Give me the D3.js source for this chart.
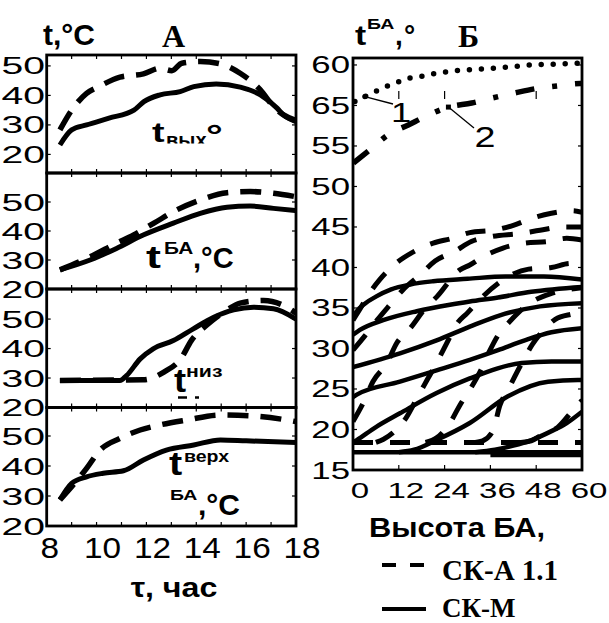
<!DOCTYPE html>
<html><head><meta charset="utf-8">
<script src="https://cdn.jsdelivr.net/npm/d3@7"></script>
<style>body{margin:0;background:#fff}svg{display:block}</style>
</head><body><svg id="c" width="609" height="623"></svg>
<script>
// ---------------- DATA ----------------
// Panel A: time of day (hours) vs temperature
const hourTicks = [8, 10, 12, 14, 16, 18];
const hourMinorTicks = [8, 9, 10, 11, 12, 13, 14, 15, 16, 17, 18];
const tempTicksA = [20, 30, 40, 50];

const outletSKM = [[8.53,23.2],[9.0,28.3],[9.6,30],[10.5,32.3],[11.5,35],[11.9,37.9],[12.55,40.2],[13.35,41.3],[13.9,43],[14.8,43.9],[15.76,42.8],[16.57,40.2],[17.24,35.7],[17.5,33.4],[18,31.1]];
const outletSKA = [[8.53,28.3],[9.0,35],[9.6,40.7],[10.14,43.2],[10.94,46.2],[11.88,47.3],[12.55,49.2],[13.02,48.4],[13.42,50.9],[14.16,51.5],[14.97,50.7],[15.76,47.5],[16.57,41.9],[17.1,36.2],[17.5,33.4],[18,31.5]];
const baSKM = [[8.53,26.6],[9.74,30],[10.8,34],[11.87,38.6],[13.08,42.7],[14.16,46.1],[15.23,48.2],[16.16,48.6],[17.1,47.8],[18,47]];
const baSKA = [[8.53,26.6],[9.74,31.1],[10.8,35.8],[11.47,38.6],[12.3,42.7],[13.2,47.2],[14.16,50.7],[15.23,53.2],[16.16,53.6],[17.1,53],[18,51.8]];
const lowSKM = [[8.53,29.2],[10.94,29.2],[11.2,30.8],[11.75,36.5],[12.27,39.9],[13.08,42.7],[13.88,46.7],[14.7,50.6],[15.5,53.1],[16.3,54],[17.1,53.5],[18,50]];
const lowSKA = [[8.53,29.2],[11.87,29.4],[12.7,32],[13.4,36.8],[13.8,42.7],[14.4,47.8],[15.2,52.9],[15.76,55.4],[16.7,56.3],[17.5,54.6],[18,52]];
const topSKM = [[8.53,28.7],[9.0,34.2],[9.6,36.4],[10.27,37.6],[11.08,38.4],[11.88,42],[12.8,45.3],[13.9,47],[14.97,48.7],[16.0,48.4],[18,47.8]];
const topSKA = [[8.53,28.7],[9.6,39.2],[10.14,45.3],[10.94,49.2],[11.75,52],[12.55,53.7],[13.6,55.3],[14.97,57],[16.3,56.7],[18,54.8]];

// Panel B: battery height vs temperature
const heightTicks = [0, 12, 24, 36, 48, 60];
const tempTickValuesB = [15, 20, 25, 30, 35, 40, 45, 50, 55, 60, 65];
const tempTickLabelsB = ["15","20","25","30","35","40","45","50","55","65","60"];

const curve1Dotted = [[0.5,60.5],[3.1,61.1],[6.2,61.8],[9,62.4],[11.9,62.9],[14.9,63.4],[18,63.6],[21,63.9],[27.2,64.3],[33.7,64.5],[39.8,64.7],[46.4,65],[52.5,65.1],[58.6,65.2],[60,65.2]];
const curve2DashDot = [[0.1,52.9],[4.9,54.7],[9.25,56.4],[14.5,57.6],[19.7,58.8],[25,59.8],[31.1,60.3],[36.3,60.9],[42,61.5],[48.1,62.1],[53.4,62.4],[59.5,62.7],[60,62.7]];
const gridMarkHeights = [12, 24, 48];

const skmProfiles = [
  [[0,33.8],[1,34.6],[3,35.5],[6,36.4],[10,37.3],[15,37.9],[21,38.3],[30,38.6],[40,38.9],[50,38.9],[60,38.5]],
  [[0,31.7],[1.8,32.3],[7.9,33.5],[16.7,34.6],[25.4,35.4],[30.6,35.8],[38,36.3],[46.7,37],[60,37.6]],
  [[0,27.7],[12.3,29.4],[21.9,31],[30.6,32.7],[38.5,34.1],[49,35.2],[60,35.6]],
  [[0,24],[1,24.3],[12.3,25.9],[21.9,27.3],[30.6,28.6],[38,29.8],[45,31],[52,32],[60,32.5]],
  [[0,18.4],[1,18.7],[6,20.3],[12.3,22],[21.9,24.5],[30.6,26.3],[44.2,28.2],[52,28.4],[60,28.4]],
  [[12,17.2],[16,17.5],[21.9,18.7],[30.6,20.8],[40.6,24.1],[51.1,25.9],[58.9,26.1],[60,26.1]],
  [[32,17.2],[37.2,17.5],[42,18],[46.8,18.7],[52,19.8],[56,20.8],[60,22.2]],
  [[0,17.2],[60,17.2]],
  [[36,16.85],[60,16.85]]
];
const skaProfiles = [
  [[0,33.5],[2,35],[4,36.6],[7,38.5],[11.5,40.6],[15.7,41.9],[21,43],[26,43.6],[30.6,44.3],[36.7,44.6],[42,45.2],[47,46.1],[52,46.7],[57.5,47],[60,46.8]],
  [[0,29.8],[3,31.5],[6.3,33.5],[9.7,35.4],[13,37.2],[17.6,39.1],[21.5,40.8],[26.7,42],[31,43.2],[36,43.8],[43.8,44.2],[49,44.6],[55,45],[60,45]],
  [[0,21],[3,23.6],[5.2,25.9],[8.9,28.2],[11.5,30.7],[15,32.5],[19,35],[22,36.4],[28,39.7],[30.6,40.3],[34,41.3],[39.3,42.4],[45,43],[51,43.2],[56,43.6],[60,43.4]],
  [[6,18.4],[8,18.8],[10.5,19.6],[14,21.5],[16.8,23.9],[19.4,26.1],[22,28.3],[24.6,30.7],[27,32.9],[30,34.4],[34,36.4],[38.5,38.2],[42,39.2],[46,39.8],[52,40],[57,40.5],[60,40.3]],
  [[19,18.4],[22,19],[25.4,20.8],[28,23],[31,25.2],[33.8,27.6],[35.9,29.8],[38.5,32],[41,33.3],[46,35.5],[52,36.8],[60,37.5]],
  [[32,18.4],[34,18.6],[36.7,19.9],[38.5,23],[40.6,24.9],[44,28],[47,30.5],[50,32.3],[53,33.6],[57,34.2],[60,34.4]],
  [[44,18.4],[46.7,18.6],[49,19.2],[53.7,20.3],[58,22.6],[60,23.6]],
  [[0,18.4],[60,18.4]]
];

// ---------------- DRAWING ----------------
const SANS = "'Liberation Sans', Arial, sans-serif";
const SERIF = "'Liberation Serif', 'Times New Roman', serif";
const svg = d3.select('#c');
const defs = svg.append('defs');

function txt(g, x, y, s, o = {}) {
  return g.append('text')
    .attr('transform', `translate(${x},${y}) scale(${o.sx || 1},1)`)
    .attr('text-anchor', o.anchor || 'start')
    .attr('font-family', o.family || SANS)
    .attr('font-size', o.size || 20)
    .attr('font-weight', o.weight || 'normal')
    .attr('fill', '#000')
    .text(s);
}

// ---- Panel A ----
const aX = d3.scaleLinear().domain([8, 18]).range([46.7, 296]);
const subplots = [
  {top: 55, bottom: 173, domain: [13.7, 53.7], skm: outletSKM, ska: outletSKA},
  {top: 173, bottom: 289, domain: [20, 60], skm: baSKM, ska: baSKA},
  {top: 289, bottom: 407.5, domain: [20, 60.2], skm: lowSKM, ska: lowSKA},
  {top: 407.5, bottom: 526, domain: [20, 59.5], skm: topSKM, ska: topSKA}
];
const gA = svg.append('g');
subplots.forEach((sp, i) => {
  const y = d3.scaleLinear().domain(sp.domain).range([sp.bottom, sp.top]);
  const id = 'clipA' + i;
  defs.append('clipPath').attr('id', id).append('rect')
    .attr('x', aX.range()[0]).attr('y', sp.top)
    .attr('width', aX.range()[1] - aX.range()[0]).attr('height', sp.bottom - sp.top);
  const line = d3.line().x(d => aX(d[0])).y(d => y(d[1])).curve(d3.curveMonotoneX);
  const g = gA.append('g').attr('clip-path', `url(#${id})`);
  g.append('path').attr('d', line(sp.ska)).attr('fill', 'none').attr('stroke', '#000')
    .attr('stroke-width', 5.5).attr('stroke-dasharray', '21,12');
  g.append('path').attr('d', line(sp.skm)).attr('fill', 'none').attr('stroke', '#000')
    .attr('stroke-width', 5).attr('stroke-linejoin', 'round');
  hourMinorTicks.forEach(h => {
    gA.append('line').attr('x1', aX(h)).attr('x2', aX(h)).attr('y1', sp.bottom).attr('y2', sp.bottom - 4)
      .attr('stroke', '#000').attr('stroke-width', 1.2);
    gA.append('line').attr('x1', aX(h)).attr('x2', aX(h)).attr('y1', sp.top).attr('y2', sp.top + 4)
      .attr('stroke', '#000').attr('stroke-width', 1.2);
  });
  tempTicksA.forEach(v => {
    gA.append('line').attr('x1', aX.range()[1]).attr('x2', aX.range()[1] - 4).attr('y1', y(v)).attr('y2', y(v))
      .attr('stroke', '#000').attr('stroke-width', 1.2);
    gA.append('line').attr('x1', aX.range()[0]).attr('x2', aX.range()[0] + 4).attr('y1', y(v)).attr('y2', y(v))
      .attr('stroke', '#000').attr('stroke-width', 1.2);
    txt(gA, 45, y(v) + 8.5, String(v), {anchor: 'end', size: 23, sx: 1.7});
  });
  gA.append('rect').attr('x', aX.range()[0]).attr('y', sp.top)
    .attr('width', aX.range()[1] - aX.range()[0]).attr('height', sp.bottom - sp.top)
    .attr('fill', 'none').attr('stroke', '#000').attr('stroke-width', 2.8);
});
hourTicks.forEach(h => txt(gA, aX(h) + (h === 8 ? 3 : 6), 558, String(h), {anchor: 'middle', size: 29, sx: 1.15}));
txt(gA, 174, 597, 'τ, час', {anchor: 'middle', size: 28, weight: 'bold', sx: 1.15});
txt(gA, 43, 45, 't,°C', {size: 30, weight: 'bold'});
txt(gA, 162, 47, 'А', {size: 32, weight: 'bold', family: SERIF});

// subplot labels
txt(gA, 152, 142, 't', {size: 27, weight: 'bold', sx: 1.4});
defs.append('clipPath').attr('id', 'clipSub').append('rect').attr('x', 150).attr('y', 100).attr('width', 80).attr('height', 43.5);
gA.append('g').attr('clip-path', 'url(#clipSub)').call(g => txt(g, 166, 147, 'вых', {size: 20, weight: 'bold'}));
txt(gA, 206, 146, '°', {size: 30, weight: 'bold', sx: 1.4});

txt(gA, 146, 268, 't', {size: 32, weight: 'bold', sx: 1.4});
txt(gA, 164, 254, 'БА', {size: 16, weight: 'bold', sx: 1.3});
txt(gA, 193, 268, ',°C', {size: 29, weight: 'bold'});

txt(gA, 174, 392, 't', {size: 33, weight: 'bold', sx: 1.1});
txt(gA, 186, 377, 'низ', {size: 17, weight: 'bold', sx: 1.25});
gA.append('line').attr('x1', 178).attr('x2', 187).attr('y1', 397.5).attr('y2', 397.5).attr('stroke', '#000').attr('stroke-width', 2.5);
gA.append('line').attr('x1', 195).attr('x2', 199).attr('y1', 397.5).attr('y2', 397.5).attr('stroke', '#000').attr('stroke-width', 2.5);

txt(gA, 169, 475, 't', {size: 33, weight: 'bold', sx: 1.2});
txt(gA, 184, 462, 'верх', {size: 17, weight: 'bold', sx: 1.15});
txt(gA, 170, 500, 'БА', {size: 15, weight: 'bold', sx: 1.3});
txt(gA, 198, 515, ',°C', {size: 30, weight: 'bold'});

// ---- Panel B ----
const bX = d3.scaleLinear().domain([0, 60]).range([353, 582]);
const bY = d3.scaleLinear().domain([15, 65.86]).range([470, 58]);
const gB = svg.append('g');
defs.append('clipPath').attr('id', 'clipB').append('rect')
  .attr('x', 353).attr('y', 58).attr('width', 229).attr('height', 412);
const gBc = gB.append('g').attr('clip-path', 'url(#clipB)');
const lineB = d3.line().x(d => bX(d[0])).y(d => bY(d[1])).curve(d3.curveMonotoneX);

skaProfiles.forEach(p => gBc.append('path').attr('d', lineB(p)).attr('fill', 'none')
  .attr('stroke', '#000').attr('stroke-width', 5).attr('stroke-dasharray', '20,17'));
skmProfiles.forEach(p => gBc.append('path').attr('d', lineB(p)).attr('fill', 'none')
  .attr('stroke', '#000').attr('stroke-width', 4.5).attr('stroke-linejoin', 'round'));

gBc.append('path').attr('d', lineB(curve1Dotted)).attr('fill', 'none').attr('stroke', '#000')
  .attr('stroke-width', 5.5).attr('stroke-linecap', 'round').attr('stroke-dasharray', '0,12');
gBc.append('path').attr('d', lineB(curve2DashDot)).attr('fill', 'none').attr('stroke', '#000')
  .attr('stroke-width', 5.5).attr('stroke-dasharray', '19,18,5,18');

gridMarkHeights.forEach(h => gB.append('line').attr('x1', bX(h)).attr('x2', bX(h))
  .attr('y1', bY(60.8)).attr('y2', bY(61.8)).attr('stroke', '#000').attr('stroke-width', 1.2));

// leaders
const p1 = curve1Dotted[1], p2 = curve2DashDot[5];
gB.append('circle').attr('cx', bX(p1[0])).attr('cy', bY(p1[1])).attr('r', 2.6).attr('fill', '#000');
gB.append('line').attr('x1', bX(p1[0])).attr('y1', bY(p1[1])).attr('x2', 393).attr('y2', 104)
  .attr('stroke', '#000').attr('stroke-width', 1.3);
txt(gB, 401, 122, '1', {anchor: 'middle', size: 28, sx: 1.3});
gB.append('rect').attr('x', bX(p2[0]) - 2.5).attr('y', bY(p2[1]) - 2.5).attr('width', 5).attr('height', 5).attr('fill', '#000');
gB.append('line').attr('x1', bX(p2[0])).attr('y1', bY(p2[1])).attr('x2', 474).attr('y2', 128)
  .attr('stroke', '#000').attr('stroke-width', 1.3);
txt(gB, 485, 147, '2', {anchor: 'middle', size: 29, sx: 1.3});

// axes ticks & labels
tempTickValuesB.forEach((v, i) => {
  gB.append('line').attr('x1', 353).attr('x2', 357).attr('y1', bY(v)).attr('y2', bY(v)).attr('stroke', '#000').attr('stroke-width', 1.2);
  gB.append('line').attr('x1', 582).attr('x2', 578).attr('y1', bY(v)).attr('y2', bY(v)).attr('stroke', '#000').attr('stroke-width', 1.2);
  txt(gB, 350, bY(v) + 8.5, tempTickLabelsB[i], {anchor: 'end', size: 24, sx: 1.45});
});
heightTicks.forEach(h => {
  gB.append('line').attr('x1', bX(h)).attr('x2', bX(h)).attr('y1', 470).attr('y2', 465).attr('stroke', '#000').attr('stroke-width', 1.2);
  txt(gB, bX(h) + 7, 498, String(h), {anchor: 'middle', size: 22, sx: 1.5});
});
gB.append('rect').attr('x', 353).attr('y', 58).attr('width', 229).attr('height', 412)
  .attr('fill', 'none').attr('stroke', '#000').attr('stroke-width', 2.8);

txt(gB, 355, 45, 't', {size: 28, weight: 'bold', sx: 1.2});
txt(gB, 367, 29, 'БА', {size: 15, weight: 'bold', sx: 1.3});
txt(gB, 395, 45, ',', {size: 28, weight: 'bold'});
txt(gB, 404, 45, '°', {size: 28, weight: 'bold'});
txt(gB, 458, 47, 'Б', {size: 32, weight: 'bold', family: SERIF});
txt(gB, 457, 537, 'Высота БА,', {anchor: 'middle', size: 28, weight: 'bold', sx: 1.1});

// legend
gB.append('line').attr('x1', 382).attr('x2', 426).attr('y1', 565).attr('y2', 565)
  .attr('stroke', '#000').attr('stroke-width', 4).attr('stroke-dasharray', '14,14');
txt(gB, 442, 580, 'СК-А 1.1', {size: 29, weight: 'bold', family: SERIF});
gB.append('line').attr('x1', 382).attr('x2', 426).attr('y1', 609).attr('y2', 609)
  .attr('stroke', '#000').attr('stroke-width', 4);
txt(gB, 442, 617, 'СК-М', {size: 27, weight: 'bold', family: SERIF});
</script></body></html>
